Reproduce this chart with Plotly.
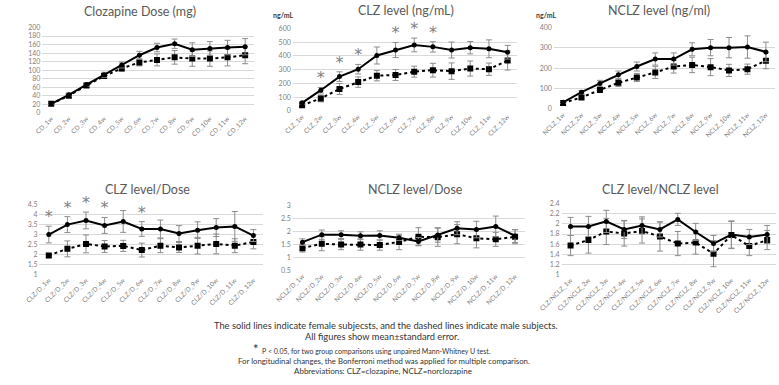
import plotly.graph_objects as go

weeks = ["1w", "2w", "3w", "4w", "5w", "6w", "7w", "8w", "9w", "10w", "11w", "12w"]

# Panel 1: Clozapine dose (mg)
dose_f = [21, 42, 66, 89, 112, 135, 153, 162, 148, 151, 153, 155]
dose_f_se = [2, 3, 4, 6, 7, 9, 10, 11, 16, 16, 17, 19]
dose_m = [21, 40, 64, 86, 104, 118, 124, 130, 127, 127, 130, 135]
dose_m_se = [2, 3, 4, 5, 6, 8, 14, 16, 18, 18, 20, 20]

# Panel 2: CLZ level (ng/mL)
clz_f = [58, 150, 249, 303, 403, 443, 480, 466, 443, 460, 452, 427]
clz_f_se = [10, 20, 35, 35, 62, 55, 50, 38, 58, 45, 65, 50]
clz_m = [40, 90, 159, 209, 256, 261, 285, 296, 289, 308, 303, 367]
clz_m_se = [10, 25, 40, 38, 38, 40, 40, 50, 60, 55, 45, 70]
clz_sig = ["2w", "3w", "4w", "6w", "7w", "8w"]

# Panel 3: NCLZ level (ng/ml)
nclz_f = [32, 82, 125, 168, 208, 245, 245, 293, 301, 301, 304, 280]
nclz_f_se = [5, 8, 15, 18, 22, 30, 30, 32, 40, 50, 55, 48]
nclz_m = [29, 56, 93, 128, 154, 179, 208, 216, 205, 189, 195, 237]
nclz_m_se = [4, 8, 12, 18, 20, 30, 32, 38, 42, 30, 25, 40]

# Panel 4: CLZ level/Dose
cd_f = [3.0, 3.5, 3.71, 3.46, 3.66, 3.28, 3.28, 3.05, 3.22, 3.35, 3.41, 2.95]
cd_f_se = [0.42, 0.4, 0.42, 0.4, 0.55, 0.37, 0.45, 0.4, 0.42, 0.45, 0.75, 0.3]
cd_m = [1.95, 2.28, 2.53, 2.40, 2.43, 2.22, 2.44, 2.35, 2.44, 2.53, 2.44, 2.63]
cd_m_se = [0.1, 0.4, 0.45, 0.3, 0.28, 0.35, 0.35, 0.25, 0.42, 0.5, 0.35, 0.35]
cd_sig = ["1w", "2w", "3w", "4w", "6w"]

# Panel 5: NCLZ level/Dose
nd_f = [1.59, 1.88, 1.88, 1.84, 1.85, 1.76, 1.62, 1.87, 2.13, 2.08, 2.2, 1.83]
nd_f_se = [0.13, 0.18, 0.15, 0.15, 0.18, 0.1, 0.15, 0.28, 0.25, 0.32, 0.4, 0.25]
nd_m = [1.36, 1.53, 1.5, 1.5, 1.48, 1.6, 1.8, 1.78, 1.9, 1.74, 1.7, 1.8]
nd_m_se = [0.15, 0.27, 0.2, 0.22, 0.2, 0.3, 0.35, 0.35, 0.37, 0.37, 0.27, 0.27]

# Panel 6: CLZ level/NCLZ level
cn_f = [1.95, 1.95, 2.05, 1.89, 1.97, 1.89, 2.09, 1.84, 1.61, 1.79, 1.74, 1.79]
cn_f_se = [0.18, 0.2, 0.22, 0.18, 0.17, 0.15, 0.12, 0.17, 0.16, 0.27, 0.15, 0.18]
cn_m = [1.57, 1.68, 1.85, 1.81, 1.86, 1.75, 1.61, 1.63, 1.41, 1.78, 1.56, 1.68]
cn_m_se = [0.2, 0.26, 0.26, 0.25, 0.24, 0.29, 0.24, 0.23, 0.26, 0.27, 0.19, 0.19]

titles = ["Clozapine Dose (mg)", "CLZ level (ng/mL)", "NCLZ level (ng/ml)",
          "CLZ level/Dose", "NCLZ level/Dose", "CLZ level/NCLZ level"]
prefixes = ["CD_", "CLZ_", "NCLZ_", "CLZ/D_", "NCLZ/D_", "CLZ/NCLZ_"]

footnotes = [
    "The solid lines indicate female subjecsts, and the dashed lines indicate male subjects.",
    "All figures show mean±standard error.",
    "<span style='font-size:13px'>*</span>  P < 0.05, for two group comparisons using unpaired Mann-Whitney U test.",
    "For longitudinal changes, the Bonferroni method was applied for multiple comparison.",
    "Abbreviations: CLZ=clozapine, NCLZ=norclozapine",
]

W, H = 779, 385
FONT = "Lato"
GREY = "#595959"

panels = [
    dict(f=dose_f, fs=dose_f_se, m=dose_m, ms=dose_m_se, sig=[], rng=[0, 200], dt=20,
         px=(20, 238), py=(23, 110), title_xy=(121, 7)),
    dict(f=clz_f, fs=clz_f_se, m=clz_m, ms=clz_m_se, sig=clz_sig, rng=[0, 600], dt=100,
         px=(278, 509), py=(24, 108), title_xy=(395, 6)),
    dict(f=nclz_f, fs=nclz_f_se, m=nclz_m, ms=nclz_m_se, sig=[], rng=[0, 400], dt=100,
         px=(547, 775), py=(23, 106), title_xy=(655, 6)),
    dict(f=cd_f, fs=cd_f_se, m=cd_m, ms=cd_m_se, sig=cd_sig, rng=[1, 4.5], dt=0.5,
         px=(17, 247), py=(204, 275), title_xy=(128, 188)),
    dict(f=nd_f, fs=nd_f_se, m=nd_m, ms=nd_m_se, sig=[], rng=[0.5, 3], dt=0.5,
         px=(278, 517), py=(205, 271), title_xy=(404, 188)),
    dict(f=cn_f, fs=cn_f_se, m=cn_m, ms=cn_m_se, sig=[], rng=[1, 2.4], dt=0.2,
         px=(555, 776), py=(203, 275), title_xy=(657, 188)),
]

fig = go.Figure()
annotations = []
layout = {}


def fx(p):
    return p / W


def fy(p):
    return 1 - p / H


for i, (p, title, pre) in enumerate(zip(panels, titles, prefixes), start=1):
    xa = "x" if i == 1 else f"x{i}"
    ya = "y" if i == 1 else f"y{i}"
    cats = [pre + w for w in weeks]
    err_style = dict(type="data", visible=True, color="#8c8c8c", thickness=1, width=3)
    # male (dotted, squares)
    fig.add_trace(go.Scatter(
        x=cats, y=p["m"], xaxis=xa, yaxis=ya, mode="lines+markers",
        line=dict(color="black", width=2, dash="dot"),
        marker=dict(symbol="square", size=6, color="black"),
        error_y=dict(array=p["ms"], **err_style), showlegend=False))
    # female (solid, circles)
    fig.add_trace(go.Scatter(
        x=cats, y=p["f"], xaxis=xa, yaxis=ya, mode="lines+markers",
        line=dict(color="black", width=2),
        marker=dict(symbol="circle", size=5, color="black"),
        error_y=dict(array=p["fs"], **err_style), showlegend=False))
    # significance asterisks
    if p["sig"]:
        sx, sy = [], []
        for w in p["sig"]:
            k = weeks.index(w)
            sx.append(pre + w)
            sy.append(p["f"][k] + p["fs"][k])
        fig.add_trace(go.Scatter(
            x=sx, y=sy, xaxis=xa, yaxis=ya, mode="text", text=["*"] * len(sx),
            textposition="top center", textfont=dict(size=16, color="#808080", family="DejaVu Sans"),
            showlegend=False, hoverinfo="skip", cliponaxis=False))

    xkey = "xaxis" if i == 1 else f"xaxis{i}"
    ykey = "yaxis" if i == 1 else f"yaxis{i}"
    layout[xkey] = dict(
        domain=[fx(p["px"][0]), fx(p["px"][1])], anchor=ya, type="category",
        range=[-0.5, 11.5], tickangle=-45, showgrid=False, showline=False, zeroline=False,
        ticks="", tickfont=dict(size=6.5, color="#7f7f7f", family=FONT), fixedrange=True)
    layout[ykey] = dict(
        domain=[fy(p["py"][1]), fy(p["py"][0])], anchor=xa, range=p["rng"], dtick=p["dt"],
        tick0=p["rng"][0], showgrid=True, gridcolor="#d9d9d9", gridwidth=1, zeroline=False,
        showline=False, ticks="", ticklabelstandoff=1,
        tickfont=dict(size=7, color="#7f7f7f", family=FONT), fixedrange=True)
    annotations.append(dict(
        text=title, x=fx(p["title_xy"][0]), y=fy(p["title_xy"][1]), xref="paper", yref="paper",
        xanchor="center", yanchor="middle", showarrow=False,
        font=dict(size=12.5, color=GREY, family=FONT)))

# unit labels
for ux in (268, 539):
    annotations.append(dict(text="<b>ng/mL</b>", x=fx(ux), y=fy(10), xref="paper", yref="paper",
                            xanchor="center", yanchor="middle", showarrow=False,
                            font=dict(size=7, color="#404040", family=FONT)))

# footnotes
foot_y = [327, 339, 351, 364, 374]
foot_x = [374, 370, 360, 372, 371]
foot_size = [9.3, 9.3, 7.0, 7.8, 8.0]
for t, xx, yy, fs in zip(footnotes, foot_x, foot_y, foot_size):
    annotations.append(dict(text=t, x=fx(xx), y=fy(yy), xref="paper", yref="paper",
                            xanchor="center", yanchor="middle", showarrow=False, borderpad=0,
                            font=dict(size=fs, color="#333333", family=FONT)))

fig.update_layout(
    width=W, height=H, margin=dict(l=0, r=0, t=0, b=0),
    paper_bgcolor="white", plot_bgcolor="white",
    annotations=annotations, **layout)

fig.write_html("out.html", config={"displayModeBar": False})
